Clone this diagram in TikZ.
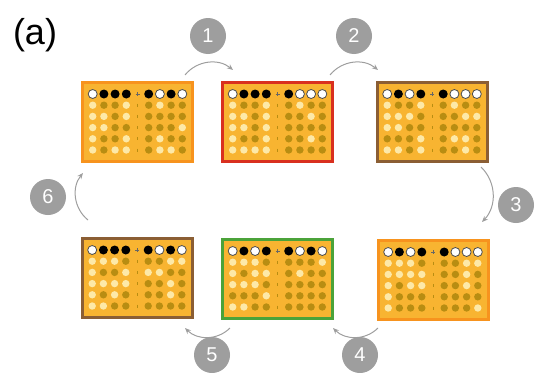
\documentclass[tikz,border=0pt]{standalone}
\usepackage{fontspec}
\setmainfont{Liberation Sans}
\usetikzlibrary{arrows.meta}

\definecolor{boardfill}{HTML}{F8B431}
\definecolor{edgeorange}{HTML}{F7931E}
\definecolor{edgered}{HTML}{D9301F}
\definecolor{edgebrown}{HTML}{8B5E34}
\definecolor{edgegreen}{HTML}{4BA33A}
\definecolor{darkdot}{HTML}{B88D12}
\definecolor{lightdot}{HTML}{FDE9A8}
\definecolor{stepgray}{HTML}{9E9E9E}

\tikzset{
  board/.style={draw=#1, line width=3pt, fill=boardfill,
    minimum width=110pt, minimum height=79pt, inner sep=0pt},
  stepnum/.style={circle, fill=stepgray, text=white, minimum size=36pt,
    inner sep=0pt, font=\fontsize{20}{20}\selectfont},
  turn/.style={draw=stepgray, line width=1pt, -{Stealth[length=6pt,width=5pt]},
    bend left=45},
  peg0/.style={fill=white, draw=black!70, line width=0.8pt},
  peg1/.style={fill=black},
  dot0/.style={fill=lightdot},
  dot1/.style={fill=darkdot}
}

% #1 board name, #2 top row (8 pegs), #3 five rows of 8 dots
\newcommand{\boarddots}[3]{%
  \begin{scope}[shift={(#1)}]
    \foreach \v [count=\i, evaluate=\i as \dx using {(\i+(\i>4)-5)*11.2}] in {#2}
      \path[peg\v] (\dx,-28) circle (4.5);
    \draw[black!60, line width=0.6pt] (-2,-28) -- (2,-28) (0,-30) -- (0,-26);
    \foreach \pat [count=\j] in {#3} {
      \foreach \v [count=\i, evaluate=\i as \dx using {(\i+(\i>4)-5)*11.2}] in \pat
        \path[dot\v] (\dx,-28+\j*11.2) circle (3.7);
      \draw[darkdot, line width=0.6pt] (0,-29.5+\j*11.2) -- (0,-26.5+\j*11.2);
    }
  \end{scope}
}

\begin{document}
\begin{tikzpicture}[x=1pt, y=-1pt]
    \useasboundingbox (0,0) rectangle (537,372);

    % --- Label ---
    \node[font=\fontsize{36}{36}\selectfont] (lbl) at (35,35) {(a)};

    % --- Boards, clockwise from top left ---
    \node[board=edgeorange] (b1) at (137.5,122) {};
    \node[board=edgered]    (b2) at (277.5,122) {};
    \node[board=edgebrown]  (b3) at (432,122) {};
    \node[board=edgeorange] (b4) at (433,280) {};
    \node[board=edgegreen]  (b5) at (277.5,279) {};
    \node[board=edgebrown]  (b6) at (137,278) {};

    \boarddots{b1}{0,1,1,1,1,0,1,0}
      {{0,1,1,0,1,0,1,1},{0,0,1,0,1,1,1,1},{0,0,1,1,1,1,1,0},{0,1,1,0,1,0,1,1},{0,1,0,0,1,0,0,1}}
    \boarddots{b2}{0,1,1,1,1,0,0,0}
      {{0,1,1,0,1,0,1,1},{0,0,1,0,1,1,0,1},{0,0,1,0,1,1,1,1},{0,1,1,0,1,1,0,1},{0,0,0,0,1,1,1,1}}
    \boarddots{b3}{0,1,0,1,1,0,0,0}
      {{0,1,1,0,1,0,1,1},{0,0,0,1,1,1,0,0},{0,0,1,1,1,1,1,1},{1,1,1,0,1,0,0,1},{0,0,1,0,1,1,0,1}}
    \boarddots{b4}{0,1,0,1,1,0,0,0}
      {{0,0,0,1,1,1,0,0},{0,0,0,0,1,1,0,1},{0,1,0,0,1,1,0,1},{0,1,1,1,1,1,1,1},{0,1,1,1,1,1,1,0}}
    \boarddots{b5}{0,1,0,1,1,0,1,0}
      {{0,0,0,1,1,1,1,0},{0,1,0,0,1,0,1,1},{0,0,0,1,1,1,1,1},{1,1,1,0,1,1,1,1},{0,0,1,1,1,1,1,1}}
    \boarddots{b6}{0,1,1,1,1,0,1,0}
      {{0,0,0,1,1,1,0,0},{0,1,1,0,0,0,1,1},{0,0,0,0,1,1,0,1},{0,1,0,1,1,1,0,1},{0,0,1,1,1,1,1,1}}

    % --- Arrow ends ---
    \coordinate (t1a) at (185,75);  \coordinate (t1b) at (233,70);
    \coordinate (t2a) at (330,75);  \coordinate (t2b) at (378,70);
    \coordinate (t3a) at (481,167); \coordinate (t3b) at (482,222);
    \coordinate (t4a) at (378,328); \coordinate (t4b) at (333,328);
    \coordinate (t5a) at (230,328); \coordinate (t5b) at (185,328);
    \coordinate (t6a) at (88,220);  \coordinate (t6b) at (83,173);

    % --- Turns ---
    \draw[turn] (t1a) to (t1b);
    \draw[turn] (t2a) to (t2b);
    \draw[turn] (t3a) to (t3b);
    \draw[turn] (t4a) to (t4b);
    \draw[turn] (t5a) to (t5b);
    \draw[turn] (t6a) to (t6b);

    % --- Step numbers ---
    \node[stepnum] (n1) at (208,36) {1};
    \node[stepnum] (n2) at (354,36) {2};
    \node[stepnum] (n3) at (516,205) {3};
    \node[stepnum] (n4) at (360,355) {4};
    \node[stepnum] (n5) at (212,355) {5};
    \node[stepnum] (n6) at (48,197) {6};

\end{tikzpicture}
\end{document}
